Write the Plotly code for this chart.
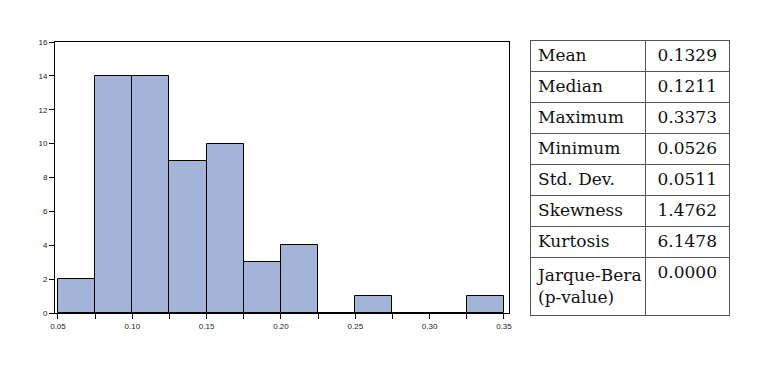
import plotly.graph_objects as go

# Histogram data (bin width 0.025)
bin_left = [0.05, 0.075, 0.10, 0.125, 0.15, 0.175, 0.20, 0.225, 0.25, 0.275, 0.30, 0.325]
counts = [2, 14, 14, 9, 10, 3, 4, 0, 1, 0, 0, 1]
bin_width = 0.025

x_tickvals = [0.05, 0.075, 0.10, 0.125, 0.15, 0.175, 0.20, 0.225, 0.25, 0.275, 0.30, 0.325, 0.35]
x_ticktext = ["0.05", "", "0.10", "", "0.15", "", "0.20", "", "0.25", "", "0.30", "", "0.35"]
y_tickvals = [0, 2, 4, 6, 8, 10, 12, 14, 16]

stat_names = ["Mean", "Median", "Maximum", "Minimum", "Std. Dev.", "Skewness", "Kurtosis", "Jarque-Bera<br>(p-value)"]
stat_values = ["0.1329", "0.1211", "0.3373", "0.0526", "0.0511", "1.4762", "6.1478", "0.0000"]

W, H = 767, 369
fig = go.Figure()

fig.add_trace(go.Bar(
    x=[b + bin_width / 2 for b in bin_left],
    y=counts,
    width=bin_width,
    marker=dict(color="#a2b5d9", line=dict(color="black", width=1)),
    showlegend=False,
    hoverinfo="skip",
))

# Table
tx0, tx1 = 530, 730
ty0 = 40
tfont = dict(family="DejaVu Serif", size=17, color="#111111")
fig.add_trace(go.Table(
    domain=dict(x=[tx0 / W, tx1 / W], y=[0, 1 - ty0 / H]),
    columnwidth=[116, 84],
    header=dict(
        values=[stat_names[0], stat_values[0]],
        align=["left", "center"],
        height=31,
        fill=dict(color="white"),
        line=dict(color="#555555", width=1),
        font=tfont,
    ),
    cells=dict(
        values=[stat_names[1:], stat_values[1:]],
        align=["left", "center"],
        height=31,
        fill=dict(color="white"),
        line=dict(color="#555555", width=1),
        font=tfont,
    ),
))

axis_font = dict(family="Liberation Sans", size=8, color="#222222")

fig.update_layout(
    width=W, height=H,
    margin=dict(l=0, r=0, t=0, b=0),
    paper_bgcolor="white",
    plot_bgcolor="white",
    bargap=0,
    xaxis=dict(
        domain=[55 / W, 509 / W],
        range=[0.048, 0.3534],
        tickvals=x_tickvals, ticktext=x_ticktext,
        ticks="outside", ticklen=5, tickcolor="black", tickwidth=1,
        showline=True, linecolor="black", linewidth=1, mirror=True,
        showgrid=False, zeroline=False, automargin=False,
        tickfont=axis_font,
    ),
    yaxis=dict(
        domain=[1 - 313 / H, 1 - 42 / H],
        range=[0, 16],
        tickvals=y_tickvals,
        ticks="outside", ticklen=5, tickcolor="black", tickwidth=1,
        showline=True, linecolor="black", linewidth=1, mirror=True,
        showgrid=False, zeroline=False, automargin=False,
        tickfont=axis_font,
    ),
)

fig.write_html("out.html")
